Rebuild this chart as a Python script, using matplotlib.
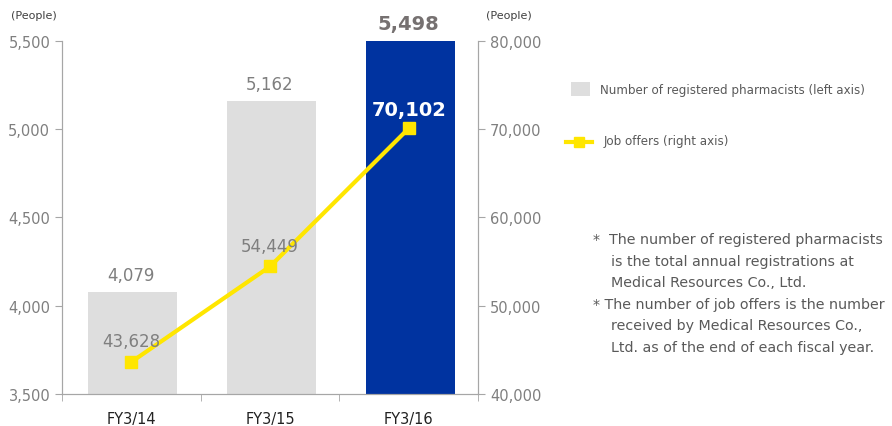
import numpy as np
import matplotlib.pyplot as plt
from matplotlib.patches import Rectangle
from matplotlib.lines import Line2D

plt.rcParams['font.family'] = ['DejaVu Sans']

# データ
categories = ['FY3/14', 'FY3/15', 'FY3/16']
pharmacists = [4079, 5162, 5498]
job_offers = [43628, 54449, 70102]

GRAY_TXT = '#7f7f7f'
SPINE = '#a6a6a6'

fig = plt.figure(figsize=(8.92, 4.27), dpi=100)
ax = fig.add_axes([0.0695, 0.075, 0.4665, 0.8267])
ax2 = ax.twinx()

x = np.arange(len(categories))
bar_colors = ['#dedede', '#dedede', '#0033a0']
ax.bar(x + 0.01, pharmacists, width=0.64, color=bar_colors, zorder=2)
ax.set_xlim(-0.5, 2.5)
ax.set_ylim(3500, 5500)
ax.set_yticks(np.arange(3500, 5501, 500))
ax.set_yticklabels([f'{v:,}' for v in range(3500, 5501, 500)])
ax.set_xticks(x)
ax.set_xticklabels(categories, fontsize=10.5, color='#222222')
ax.tick_params(axis='x', length=0, pad=12)
ax.set_xticks([-0.5, 0.5, 1.5, 2.5], minor=True)
ax.tick_params(axis='x', which='minor', length=5, color=SPINE)
ax.tick_params(axis='y', labelsize=10.5, labelcolor=GRAY_TXT, color=SPINE, length=5)

# 棒グラフのラベル
for i, v in enumerate(pharmacists[:2]):
    ax.text(i, v + 45, f'{v:,}', ha='center', va='bottom', fontsize=12, color=GRAY_TXT)
ax.text(2, pharmacists[2] + 50, f'{pharmacists[2]:,}', ha='center', va='bottom',
        fontsize=14, fontweight='bold', color='#767171')

# 折れ線（右軸）
ax2.plot(x, job_offers, color='#ffe600', linewidth=3, marker='s', markersize=8,
         markerfacecolor='#ffe600', markeredgecolor='#ffe600', zorder=3)
ax2.set_ylim(40000, 80000)
ax2.set_yticks(np.arange(40000, 80001, 10000))
ax2.set_yticklabels([f'{v:,}' for v in range(40000, 80001, 10000)])
ax2.tick_params(axis='y', labelsize=10.5, labelcolor=GRAY_TXT, color=SPINE, length=5)

for i, v in enumerate(job_offers[:2]):
    ax2.text(i, v + 1300, f'{v:,}', ha='center', va='bottom', fontsize=12, color=GRAY_TXT)
ax2.text(2, job_offers[2] + 1000, f'{job_offers[2]:,}', ha='center', va='bottom',
         fontsize=14, fontweight='bold', color='white')

for a in (ax, ax2):
    a.spines['top'].set_visible(False)
    for s in ('left', 'right', 'bottom'):
        a.spines[s].set_color(SPINE)

# 単位
fig.text(0.012, 0.955, '(People)', fontsize=8, color='#404040')
fig.text(0.545, 0.955, '(People)', fontsize=8, color='#404040')

# 凡例
fig.patches.append(Rectangle((0.6405, 0.772), 0.021, 0.034, transform=fig.transFigure,
                             facecolor='#dedede', edgecolor='none'))
fig.text(0.673, 0.789, 'Number of registered pharmacists (left axis)',
         fontsize=8.6, color='#595959', va='center')
fig.lines.append(Line2D([0.634, 0.664], [0.665, 0.665], transform=fig.transFigure,
                        color='#ffe600', linewidth=3))
fig.lines.append(Line2D([0.649], [0.665], transform=fig.transFigure,
                        color='#ffe600', marker='s', markersize=7))
fig.text(0.677, 0.668, 'Job offers (right axis)', fontsize=8.6, color='#595959', va='center')

# 注記
notes = ['*  The number of registered pharmacists',
         '    is the total annual registrations at',
         '    Medical Resources Co., Ltd.',
         '* The number of job offers is the number',
         '    received by Medical Resources Co.,',
         '    Ltd. as of the end of each fiscal year.']
for k, line in enumerate(notes):
    fig.text(0.665, 0.438 - k * 0.0505, line, fontsize=10.3, color='#595959', va='center')

fig.savefig('out.png', dpi=100)
